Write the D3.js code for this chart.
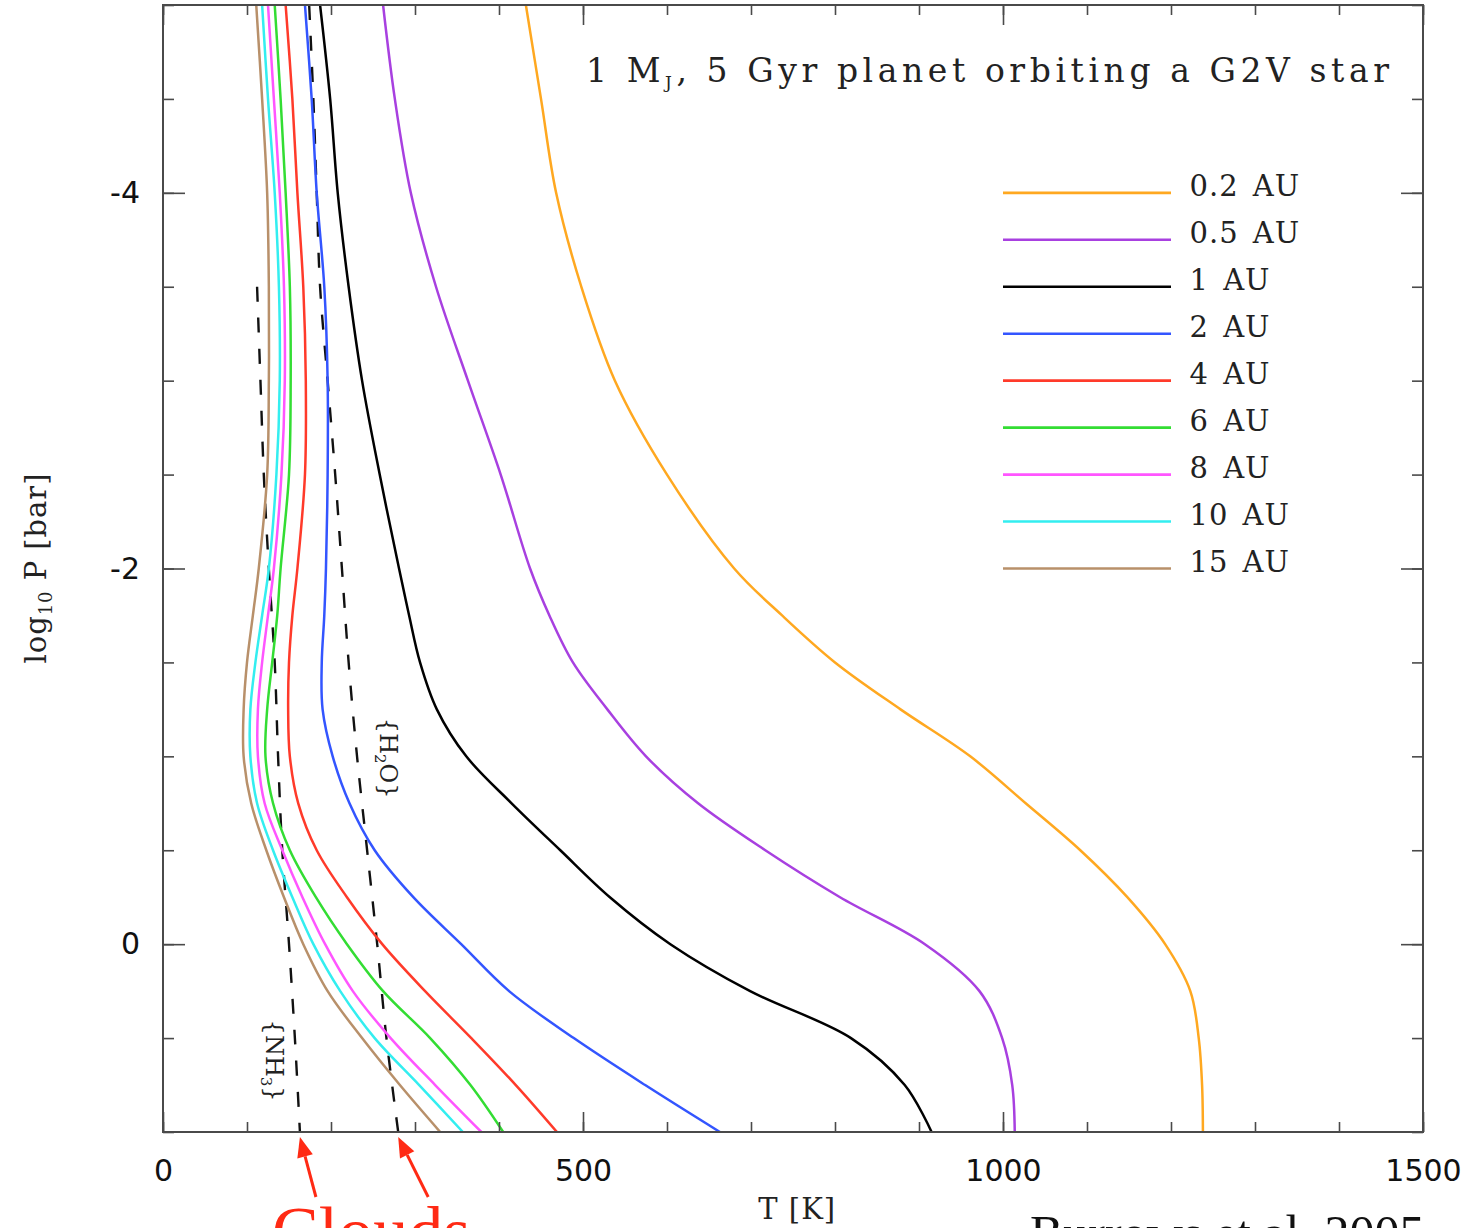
<!DOCTYPE html>
<html>
<head>
<meta charset="utf-8">
<script src="https://cdn.jsdelivr.net/npm/d3@7"></script>
<style>
  body { margin: 0; background: #fff; }
  svg { display: block; }
</style>
</head>
<body>
<div id="chart"></div>
<script>
// pressure grid (log10 P [bar]) shared by all profiles
const logP = [-5, -4.5, -4, -3.5, -3, -2.5, -2, -1.75, -1.5, -1.25, -1, -0.75, -0.5, -0.25, 0, 0.25, 0.5, 0.75, 1];

// temperature profiles T [K]
const T_02AU = [432, 450, 468, 498, 538, 600, 680, 737, 800, 878, 961, 1027, 1092, 1148, 1193, 1223, 1233, 1237, 1238];
const T_05AU = [262, 276, 295, 325, 363, 402, 437, 460, 488, 529, 575, 637, 717, 806, 907, 972, 999, 1011, 1014];
const T_1AU  = [187, 199, 208, 221, 237, 258, 281, 293, 306, 326, 361, 415, 473, 532, 604, 699, 819, 883, 915];
const T_2AU  = [169, 177, 183, 192, 196, 196, 194, 192, 189, 190, 202, 222, 252, 298, 355, 412, 489, 574, 663];
const T_4AU  = [146, 154, 160, 167, 170, 169, 160, 154, 150, 149, 151, 161, 183, 219, 261, 312, 367, 420, 469];
const T_6AU  = [133, 140, 146, 151, 152, 150, 140, 136, 130, 124, 122, 131, 151, 182, 219, 262, 318, 366, 405];
const T_8AU  = [125, 132, 139, 144, 145, 141, 132, 125, 118, 113, 113, 121, 142, 166, 193, 226, 271, 324, 379];
const T_10AU = [118, 125, 133, 138, 139, 135, 126, 118, 110, 104, 104, 112, 131, 154, 179, 211, 252, 305, 357];
const T_15AU = [111, 118, 124, 126, 126, 124, 114, 107, 100, 96, 96, 105, 123, 144, 167, 196, 237, 282, 330];

const seriesLabels = ["0.2 AU", "0.5 AU", "1 AU", "2 AU", "4 AU", "6 AU", "8 AU", "10 AU", "15 AU"];
const seriesValues = [T_02AU, T_05AU, T_1AU, T_2AU, T_4AU, T_6AU, T_8AU, T_10AU, T_15AU];
const seriesColors = ["#ffa820", "#a840e0", "#000000", "#3355ff", "#ff3a2a", "#33dd33", "#ff55ff", "#33eef0", "#b8906a"];

// condensation curves (dashed)
const h2oLogP = [-5, -4.5, -4, -3.5, -3, -2.5, -2, -1.5, -1, -0.5, 0, 0.5, 1];
const h2oT    = [174, 179, 183, 187, 196, 205, 213, 221, 231, 243, 255, 266, 280];
const nh3LogP = [-3.5, -3, -2.5, -2, -1.5, -1, -0.5, 0, 0.5, 1];
const nh3T    = [112, 116, 120, 126, 133, 137, 142, 150, 157, 163];

// axis ticks
const xMajorTicks = [0, 500, 1000, 1500];
const xMinorTicks = d3.range(0, 1501, 100);
const yMajorTicks = [-4, -2, 0];
const yMinorTicks = d3.range(-5, 1.01, 0.5);

const W = 1483, H = 1228;
const margin = { top: 5, right: 60, bottom: 96, left: 163 };
const width = W - margin.left - margin.right;   // 1260
const height = H - margin.top - margin.bottom;  // 1127

const svg = d3.select("#chart").append("svg")
    .attr("width", W)
    .attr("height", H);

const g = svg.append("g")
    .attr("transform", `translate(${margin.left},${margin.top})`);

const x = d3.scaleLinear().domain([0, 1500]).range([0, width]);
const y = d3.scaleLinear().domain([-5, 1]).range([0, height]);

const frameColor = "#4a4a4a";
const serif = "'DejaVu Serif', serif";

// clip for curves
g.append("clipPath").attr("id", "plotclip")
    .append("rect").attr("width", width).attr("height", height);

// profiles
const line = d3.line()
    .x(d => x(d[0]))
    .y(d => y(d[1]))
    .curve(d3.curveCatmullRom.alpha(0.5));

const curves = g.append("g").attr("clip-path", "url(#plotclip)");

// dashed condensation curves
curves.append("path")
    .datum(h2oT.map((t, i) => [t, h2oLogP[i]]))
    .attr("d", line)
    .attr("fill", "none")
    .attr("stroke", "#111")
    .attr("stroke-width", 2.4)
    .attr("stroke-dasharray", "15,16");

curves.append("path")
    .datum(nh3T.map((t, i) => [t, nh3LogP[i]]))
    .attr("d", line)
    .attr("fill", "none")
    .attr("stroke", "#111")
    .attr("stroke-width", 2.4)
    .attr("stroke-dasharray", "15,16");

seriesValues.forEach((vals, i) => {
    curves.append("path")
        .datum(vals.map((t, j) => [t, logP[j]]))
        .attr("d", line)
        .attr("fill", "none")
        .attr("stroke", seriesColors[i])
        .attr("stroke-width", 2.5);
});

// axes: ticks drawn inward on all four sides
function styleAxis(sel) {
    sel.select(".domain").remove();
    sel.selectAll(".tick line").attr("stroke", frameColor).attr("stroke-width", 1.6);
}

g.append("g").attr("transform", `translate(0,${height})`)
    .call(d3.axisBottom(x).tickValues(xMinorTicks).tickSizeInner(-10).tickSizeOuter(0).tickFormat(""))
    .call(styleAxis);
g.append("g").attr("transform", `translate(0,${height})`)
    .call(d3.axisBottom(x).tickValues(xMajorTicks).tickSizeInner(-20).tickSizeOuter(0).tickPadding(28)
        .tickFormat(d3.format("d")))
    .call(styleAxis)
    .selectAll("text")
    .attr("font-family", "'DejaVu Sans', sans-serif")
    .attr("font-size", 30)
    .attr("fill", "#111");

g.append("g")
    .call(d3.axisTop(x).tickValues(xMinorTicks).tickSizeInner(-10).tickSizeOuter(0).tickFormat(""))
    .call(styleAxis);
g.append("g")
    .call(d3.axisTop(x).tickValues(xMajorTicks).tickSizeInner(-20).tickSizeOuter(0).tickFormat(""))
    .call(styleAxis);

g.append("g")
    .call(d3.axisLeft(y).tickValues(yMinorTicks).tickSizeInner(-11).tickSizeOuter(0).tickFormat(""))
    .call(styleAxis);
g.append("g")
    .call(d3.axisLeft(y).tickValues(yMajorTicks).tickSizeInner(-22).tickSizeOuter(0).tickPadding(23)
        .tickFormat(d => String(d)))
    .call(styleAxis)
    .selectAll("text")
    .attr("font-family", "'DejaVu Sans', sans-serif")
    .attr("font-size", 30)
    .attr("fill", "#111");

g.append("g").attr("transform", `translate(${width},0)`)
    .call(d3.axisRight(y).tickValues(yMinorTicks).tickSizeInner(-11).tickSizeOuter(0).tickFormat(""))
    .call(styleAxis);
g.append("g").attr("transform", `translate(${width},0)`)
    .call(d3.axisRight(y).tickValues(yMajorTicks).tickSizeInner(-22).tickSizeOuter(0).tickFormat(""))
    .call(styleAxis);

// frame
g.append("rect")
    .attr("width", width)
    .attr("height", height)
    .attr("fill", "none")
    .attr("stroke", frameColor)
    .attr("stroke-width", 2);

// axis titles
g.append("text")
    .attr("x", x(755))
    .attr("y", height + 87)
    .attr("text-anchor", "middle")
    .attr("font-family", serif)
    .attr("font-size", 29)
    .attr("fill", "#222")
    .attr("letter-spacing", 1)
    .text("T [K]");

const yTitle = svg.append("text")
    .attr("transform", `translate(46,${margin.top + y(-2)}) rotate(-90)`)
    .attr("text-anchor", "middle")
    .attr("font-family", serif)
    .attr("font-size", 29)
    .attr("fill", "#222")
    .attr("textLength", 190)
    .attr("lengthAdjust", "spacing");
yTitle.append("tspan").text("log");
yTitle.append("tspan").attr("font-size", 18).attr("dy", 6).text("10");
yTitle.append("tspan").attr("dy", -6).text(" P [bar]");

// title
const title = g.append("text")
    .attr("x", 423)
    .attr("y", 77)
    .attr("font-family", serif)
    .attr("font-size", 33)
    .attr("fill", "#222")
    .attr("textLength", 803)
    .attr("lengthAdjust", "spacing");
title.append("tspan").text("1 M");
title.append("tspan").attr("font-size", 17).attr("dy", 6).text("J");
title.append("tspan").attr("dy", -6).text(", 5 Gyr planet orbiting a G2V star");

// legend (placed in data coordinates, like the original)
const legend = g.append("g");
seriesLabels.forEach((lab, i) => {
    const ly = y(-4 + 0.25 * i);
    legend.append("line")
        .attr("x1", x(1000)).attr("x2", x(1200))
        .attr("y1", ly).attr("y2", ly)
        .attr("stroke", seriesColors[i])
        .attr("stroke-width", 2.6);
    legend.append("text")
        .attr("x", x(1222))
        .attr("y", ly + 3)
        .attr("font-family", serif)
        .attr("font-size", 29)
        .attr("fill", "#222")
        .attr("letter-spacing", 1)
        .attr("word-spacing", 4)
        .text(lab);
});

// condensation labels, rotated along the dashed lines
function cloudLabel(cx, cy, main, sub, tail) {
    const t = g.append("text")
        .attr("transform", `translate(${cx},${cy}) rotate(90)`)
        .attr("text-anchor", "middle")
        .attr("font-family", serif)
        .attr("font-size", 24)
        .attr("fill", "#222");
    t.append("tspan").text(main);
    t.append("tspan").attr("font-size", 15).attr("dy", 5).text(sub);
    t.append("tspan").attr("dy", -5).text(tail);
}
cloudLabel(x(258), y(-0.99), "{H", "2", "O}");
cloudLabel(x(123), y(0.62), "{NH", "3", "}");

// overlay annotations (slide): arrows and captions
const arrowColor = "#ff2a14";
function arrow(tipX, tipY, tailX, tailY) {
    const ang = Math.atan2(tipY - tailY, tipX - tailX);
    const len = 20, half = 8;
    const bx = tipX - len * Math.cos(ang), by = tipY - len * Math.sin(ang);
    svg.append("line")
        .attr("x1", tailX).attr("y1", tailY)
        .attr("x2", bx).attr("y2", by)
        .attr("stroke", arrowColor)
        .attr("stroke-width", 3);
    svg.append("path")
        .attr("d", `M${tipX},${tipY} L${bx - half * Math.sin(ang)},${by + half * Math.cos(ang)} L${bx + half * Math.sin(ang)},${by - half * Math.cos(ang)} Z`)
        .attr("fill", arrowColor);
}
const tipY = margin.top + y(1) + 5;
const nh3TipX = margin.left + x(nh3T[nh3T.length - 1]);
const h2oTipX = margin.left + x(h2oT[h2oT.length - 1]);
arrow(nh3TipX, tipY, nh3TipX + 16, tipY + 60);
arrow(h2oTipX, tipY, h2oTipX + 30, tipY + 60);

svg.append("text")
    .attr("x", 272)
    .attr("y", 1255)
    .attr("font-family", "'Liberation Serif', serif")
    .attr("font-size", 70)
    .attr("fill", arrowColor)
    .text("Clouds");

svg.append("text")
    .attr("x", 1030)
    .attr("y", 1250)
    .attr("font-family", "'Liberation Serif', serif")
    .attr("font-size", 50)
    .attr("fill", "#111")
    .text("Burrows et al. 2005");
</script>
</body>
</html>
